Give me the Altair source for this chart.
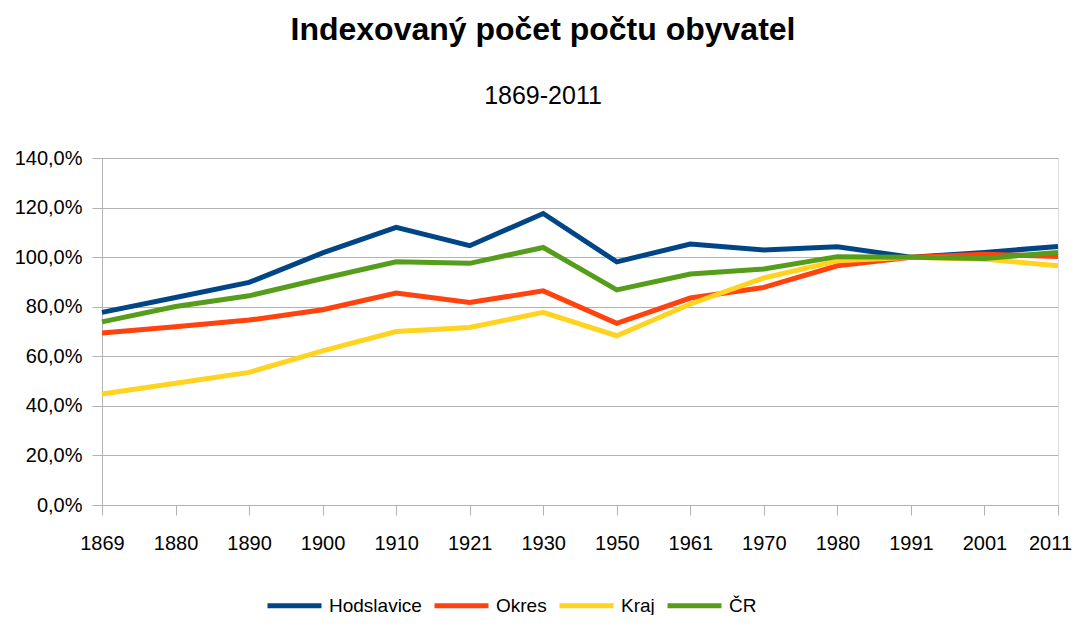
import altair as alt
import pandas as pd

years = ["1869", "1880", "1890", "1900", "1910", "1921", "1930", "1950",
         "1961", "1970", "1980", "1991", "2001", "2011"]
series_names = ["Hodslavice", "Okres", "Kraj", "ČR"]
hodslavice = [77.7, 83.7, 89.8, 101.7, 112.0, 104.6, 117.6, 98.1, 105.3, 102.9, 104.2, 100.0, 101.9, 104.3]
okres = [69.4, 71.9, 74.6, 78.8, 85.5, 81.7, 86.4, 73.3, 83.5, 87.8, 96.5, 100.0, 101.2, 100.3]
kraj = [44.8, 49.1, 53.5, 62.2, 70.0, 71.6, 77.7, 68.3, 81.1, 91.6, 98.5, 100.0, 99.2, 96.5]
cr = [73.9, 80.1, 84.4, 91.4, 98.1, 97.5, 103.9, 86.8, 93.2, 95.2, 100.2, 100.0, 99.5, 101.9]
colors = ["#004586", "#ff420e", "#ffd320", "#579d1c"]
y_ticks = [0, 20, 40, 60, 80, 100, 120, 140]

rows = []
for name, vals in zip(series_names, [hodslavice, okres, kraj, cr]):
    for yr, v in zip(years, vals):
        rows.append({"rok": yr, "serie": name, "hodnota": v})
df = pd.DataFrame(rows)

FONT = "Liberation Sans"

chart = alt.Chart(df).mark_line(strokeWidth=5, strokeJoin="miter").encode(
    x=alt.X("rok:O", sort=years, scale=alt.Scale(type="point", padding=0),
            axis=alt.Axis(title=None, labelAngle=0, grid=False, ticks=True, tickSize=10,
                          labelPadding=18, labelFontSize=20, labelFont=FONT, labelColor="#000000",
                          labelOffset={"condition": {"test": "datum.value == '2011'", "value": -8}, "value": 0},
                          domainColor="#b3b3b3", tickColor="#b3b3b3")),
    y=alt.Y("hodnota:Q", scale=alt.Scale(domain=[0, 140], nice=False),
            axis=alt.Axis(title=None, values=y_ticks, ticks=True, tickSize=10, labelPadding=10,
                          labelExpr="replace(format(datum.value, '.1f'), '.', ',') + '%'",
                          labelFontSize=20, labelFont=FONT, labelColor="#000000",
                          gridColor="#b3b3b3", domainColor="#b3b3b3", tickColor="#b3b3b3")),
    color=alt.Color("serie:N", sort=series_names,
                    scale=alt.Scale(domain=series_names, range=colors),
                    legend=alt.Legend(title=None, orient="none", direction="horizontal",
                                      legendX=163, legendY=418, columns=4,
                                      symbolType="stroke", symbolSize=2916, symbolStrokeWidth=5,
                                      labelFontSize=19, labelFont=FONT, labelColor="#000000",
                                      labelOffset=5, columnPadding=2)),
    order=alt.Order("ord:Q"),
).transform_calculate(
    ord="indexof(['Hodslavice','Okres','Kraj','ČR'], datum.serie)"
).properties(
    width=956,
    height=347,
    title=alt.TitleParams(
        text="Indexovaný počet počtu obyvatel",
        subtitle="1869-2011",
        font=FONT, fontSize=32, fontWeight="bold", color="#000000",
        subtitleFont=FONT, subtitleFontSize=25, subtitleColor="#000000",
        subtitlePadding=37, anchor="middle", dx=-37, offset=38,
    ),
    autosize=alt.AutoSizeParams(type="none"),
    padding={"left": 94, "top": 150, "right": 15, "bottom": 110},
).configure_view(stroke="#b3b3b3", strokeWidth=1).configure(background="white")

chart.save("out.html", embed_options={"renderer": "svg", "actions": False})
